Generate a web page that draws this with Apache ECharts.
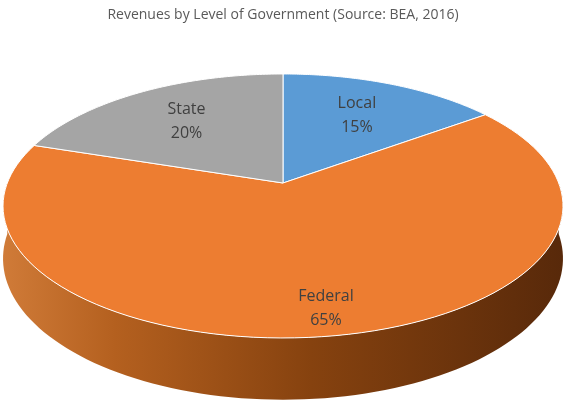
<!DOCTYPE html>
<html><head><meta charset="utf-8">
<script src="https://cdn.jsdelivr.net/npm/echarts@6/dist/echarts.min.js"></script>
<style>html,body{margin:0;padding:0;background:#fff}#c{width:566px;height:406px}</style>
</head><body><div id="c"></div>
<script>
const categories = ['Local', 'Federal', 'State'];
const values = [15, 65, 20];
const colors = ['#5b9bd5', '#ed7d31', '#a5a5a5'];

const total = values.reduce((a, b) => a + b, 0);
const starts = [];
let acc = 0;
values.forEach(v => { starts.push(acc / total * Math.PI * 2); acc += v; });

// perspective projection of a tilted disc
const cx = 283, cy = 183, K = 275.7, KS = 128, P = 0.174, D = 51;
function proj(a, r, down) {
  const X = r * Math.sin(a), Z = r * Math.cos(a), w = 1 + P * Z;
  return [cx + K * X / w, cy - KS * Z / w + (down ? D / w : 0)];
}
function arc(a0, a1, down) {
  const pts = [], n = 100;
  for (let i = 0; i <= n; i++) pts.push(proj(a0 + (a1 - a0) * i / n, 1, down));
  return pts;
}

const chart = echarts.init(document.getElementById('c'));
chart.setOption({
  animation: false,
  title: { text: 'Revenues by Level of Government (Source: BEA, 2016)', left: 'center', top: 3,
    textStyle: { fontFamily: 'Open Sans', fontSize: 14, fontWeight: 'normal', color: '#595959' } },
  series: [{
    type: 'custom',
    coordinateSystem: 'none',
    data: values,
    renderItem: function (params, api) {
      const i = params.dataIndex;
      const a0 = starts[i], a1 = a0 + values[i] / total * Math.PI * 2;
      const children = [];
      const s0 = Math.max(a0, Math.PI / 2), s1 = Math.min(a1, Math.PI * 1.5);
      if (s1 > s0) {
        const top = arc(s0, s1, false), bot = arc(s1, s0, true);
        children.push({ type: 'polygon', shape: { points: top.concat(bot) },
          style: { fill: new echarts.graphic.LinearGradient(1, 0, 0, 0, [
            { offset: 0, color: '#58290a' }, { offset: 0.45, color: '#86420f' },
            { offset: 0.8, color: '#b4601f' }, { offset: 1, color: '#d07b38' }]) } });
      }
      children.push({ type: 'polygon', shape: { points: [[cx, cy]].concat(arc(a0, a1, false)) },
        style: { fill: colors[i], stroke: '#fff', lineWidth: 1 } });
      const mid = (a0 + a1) / 2, lr = values[i] > 50 ? 0.85 : 0.65;
      const lp = proj(mid, lr, false);
      children.push({ type: 'text', x: lp[0], y: lp[1],
        style: { text: categories[i] + '\n' + Math.round(values[i] / total * 100) + '%',
          align: 'center', verticalAlign: 'middle', fontFamily: 'Open Sans', fontSize: 16,
          lineHeight: 24, fill: '#404040' } });
      return { type: 'group', children: children };
    }
  }]
});
</script></body></html>
